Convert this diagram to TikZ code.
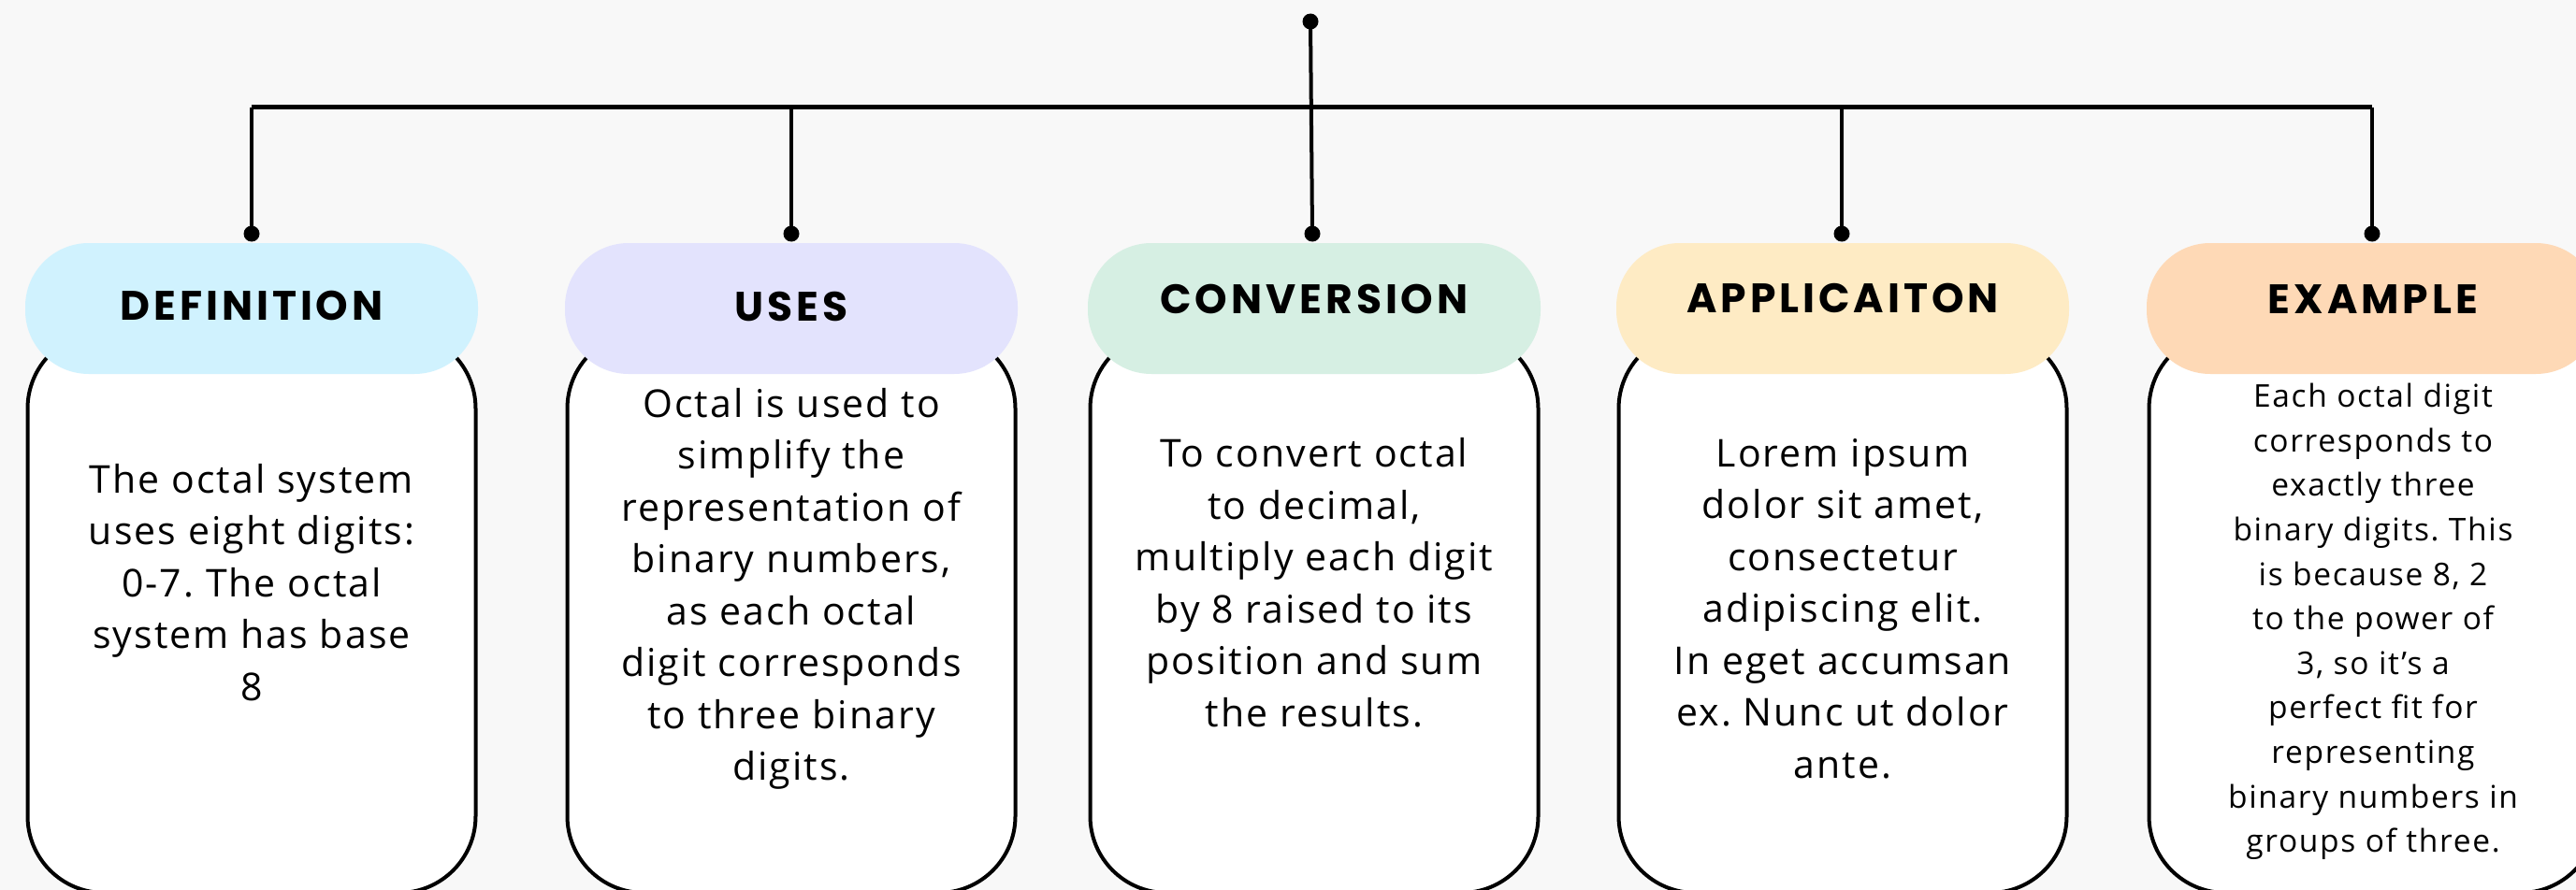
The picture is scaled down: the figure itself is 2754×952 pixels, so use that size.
\documentclass[tikz,border=0pt]{standalone}
\usepackage{fontspec}
\setmainfont{Open Sans}[LetterSpace=5]
\newfontfamily\headfont{Poppins}[LetterSpace=9]
\frenchspacing
\definecolor{bgcol}{HTML}{F8F8F8}
\definecolor{defcol}{HTML}{D0F2FE}
\definecolor{usecol}{HTML}{E3E3FD}
\definecolor{convcol}{HTML}{D6EFE3}
\definecolor{appcol}{HTML}{FEEBC4}
\definecolor{excol}{HTML}{FED9B6}
\begin{document}
\begin{tikzpicture}[x=1pt,y=-1pt,
  pill/.style={rounded corners=68pt, minimum width=484pt, minimum height=140pt,
    inner sep=0pt},
  headtxt/.style={inner sep=0pt, font=\headfont\bfseries\fontsize{44}{46}\selectfont},
  card/.style={draw=black, line width=4pt, fill=white, rounded corners=82pt,
    minimum width=479pt, minimum height=600pt, inner sep=0pt},
  body/.style={align=center, font=\fontsize{41}{55.5}\selectfont, inner sep=0pt},
  small/.style={align=center, font=\fontsize{33.5}{47.6}\selectfont, inner sep=0pt},
  dot/.style={circle, fill=black, minimum size=17pt, inner sep=0pt},
  link/.style={line width=4pt, black},
  bus/.style={line width=5pt, black}]
\useasboundingbox (0,0) rectangle (2754,952);
\clip (0,0) rectangle (2754,952);
\fill[bgcol] (0,0) rectangle (2754,952);

% cards
\node[card] (bdef)  at (269,655)  {};
\node[card] (buse)  at (846,655)  {};
\node[card] (bconv) at (1405,655) {};
\node[card] (bapp)  at (1970,655) {};
\node[card] (bex)   at (2537,655) {};

% header pills
\node[pill, fill=defcol]  (hdef)  at (269,330)  {};
\node[pill, fill=usecol]  (huse)  at (846,330)  {};
\node[pill, fill=convcol] (hconv) at (1405,330) {};
\node[pill, fill=appcol]  (happ)  at (1970,330) {};
\node[pill, fill=excol]   (hex)   at (2537,330) {};

% header titles
\node[headtxt] (ldef)  at (269,327)  {DEFINITION};
\node[headtxt] (luse)  at (846,328)  {USES};
\node[headtxt] (lconv) at (1405,320) {CONVERSION};
\node[headtxt] (lapp)  at (1970,319) {APPLICAITON};
\node[headtxt] (lex)   at (2537,320) {EXAMPLE};

% card texts
\node[body] (tdef) at (269,623) {The octal system\\uses eight digits:\\0-7. The octal\\system has base\\8};
\node[body] (tuse) at (846,630) {Octal is used to\\simplify the\\representation of\\binary numbers,\\as each octal\\digit corresponds\\to three binary\\digits.};
\node[body] (tconv) at (1405,623) {To convert octal\\to decimal,\\multiply each digit\\by 8 raised to its\\position and sum\\the results.};
\node[body] (tapp) at (1970,651) {Lorem ipsum\\dolor sit amet,\\consectetur\\adipiscing elit.\\In eget accumsan\\ex. Nunc ut dolor\\ante.};
\node[small] (tex) at (2537,665) {Each octal digit\\corresponds to\\exactly three\\binary digits. This\\is because 8, 2\\to the power of\\3, so it's a\\perfect fit for\\representing\\binary numbers in\\groups of three.};

% connector tree
\node[dot] (root)  at (1401,23) {};
\node[dot] (ddef)  at (269,250) {};
\node[dot] (duse)  at (846,250) {};
\node[dot] (dconv) at (1403,250) {};
\node[dot] (dapp)  at (1969,250) {};
\node[dot] (dex)   at (2536,250) {};
\coordinate (bar) at (0,115);

\draw[bus] (ddef.center |- bar) -- (dex.center |- bar);
\draw[link] (root.center) -- (dconv.center);
\foreach \d in {ddef,duse,dapp,dex}
  \draw[link] (\d.center |- bar) -- (\d.center);
\end{tikzpicture}
\end{document}
